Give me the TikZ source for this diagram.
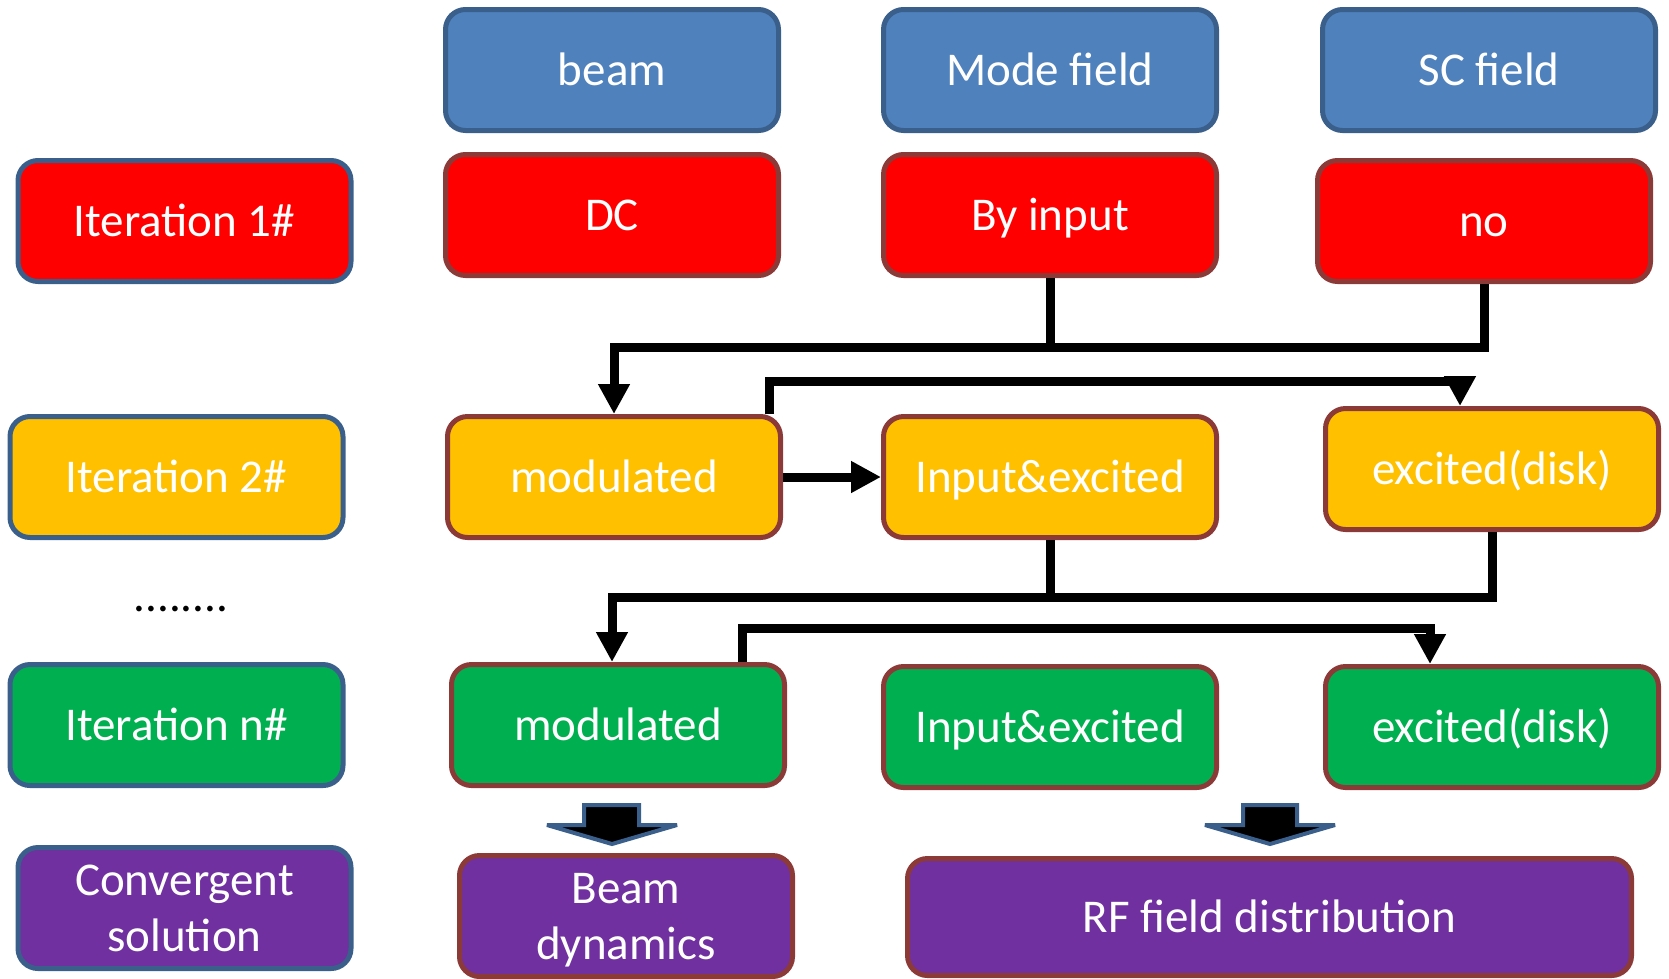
\documentclass[tikz,border=0pt]{standalone}
\usepackage{fontspec}
\setmainfont{Carlito}
\usetikzlibrary{arrows.meta,calc}
\definecolor{bfill}{HTML}{4F81BD}
\definecolor{bline}{HTML}{3A5F8B}
\definecolor{rline}{HTML}{8C3A38}
\definecolor{rfill}{HTML}{FF0000}
\definecolor{yfill}{HTML}{FFC000}
\definecolor{gfill}{HTML}{00B050}
\definecolor{pfill}{HTML}{7030A0}
\tikzset{
  box/.style={draw, line width=5pt, rounded corners=20pt, minimum width=333pt, minimum height=121pt,
    text=white, align=center, inner sep=0pt, font=\fontsize{47}{56}\selectfont},
  one/.style={text height=30pt, text depth=0pt},
  lbox/.style={box, draw=bline},
  rbox/.style={box, draw=rline},
  conn/.style={line width=9pt, draw=black},
  arr/.style={conn, -{Triangle[length=30pt,width=30pt]}},
  blockarrow/.style={fill=black, draw=bline, line width=4pt, line join=miter, miter limit=1.5},
}
\begin{document}
\begin{tikzpicture}[x=1pt,y=-1pt]
\useasboundingbox (0,0) rectangle (1669,978);
% top header row
\node[lbox, one, fill=bfill] (beam) at (612,70) {beam};
\node[lbox, one, fill=bfill] (mode) at (1050,70) {Mode field};
\node[lbox, one, fill=bfill] (sc) at (1489,70) {SC field};
% iteration 1
\node[lbox, one, fill=rfill] (it1) at (184.5,221) {Iteration 1\#};
\node[rbox, one, fill=rfill] (dc) at (612,215) {DC};
\node[rbox, one, fill=rfill] (byin) at (1050,215) {By input};
\node[rbox, one, fill=rfill] (no) at (1484,221) {no};
% iteration 2
\node[lbox, one, fill=yfill] (it2) at (176.5,477) {Iteration 2\#};
\node[rbox, one, fill=yfill] (mod2) at (614,477) {modulated};
\node[rbox, one, fill=yfill] (ie2) at (1050,477) {Input\&excited};
\node[rbox, one, fill=yfill] (ex2) at (1492,469) {excited(disk)};
% dots
\node[font=\fontsize{47}{56}\selectfont, inner sep=0pt] (dots) at (181,609) {........};
% iteration n
\node[lbox, one, fill=gfill] (itn) at (176.5,725) {Iteration n\#};
\node[rbox, one, fill=gfill] (modn) at (618,725) {modulated};
\node[rbox, one, fill=gfill] (ien) at (1050,727) {Input\&excited};
\node[rbox, one, fill=gfill] (exn) at (1492,727) {excited(disk)};
% convergent
\node[lbox, fill=pfill] (conv) at (184.5,908) {Convergent\\solution};
\node[rbox, fill=pfill, text depth=0pt] (bd) at (626,916) {Beam\\dynamics};
\node[rbox, one, fill=pfill, minimum width=724pt, minimum height=117pt] (rf) at (1269.5,917) {RF field distribution};
% connectors level 1 -> 2
\coordinate (h1) at (0,347);
\coordinate (h2) at (0,381);
\draw[conn] (byin.south) -- (byin.south |- h1);
\draw[arr] (no.south) -- (no.south |- h1) -| (mod2.north);
\coordinate (s2) at ($(mod2.north)+(155,0)$);
\coordinate (e2) at ($(ex2.north)+(-32,0)$);
\draw[arr] (s2) -- (s2 |- h2) -| (e2);
\draw[arr] (mod2.east) -- (ie2.west);
% connectors level 2 -> n
\coordinate (h3) at (0,597);
\coordinate (h4) at (0,628);
\coordinate (en) at ($(modn.north)+(-6,0)$);
\draw[conn] (ie2.south) -- (ie2.south |- h3);
\draw[arr] (ex2.south) -- (ex2.south |- h3) -| (en);
\coordinate (s4) at ($(modn.north)+(124,0)$);
\coordinate (e4) at ($(exn.north)+(-62,0)$);
\draw[arr] (s4) -- (s4 |- h4) -| (e4);
% block arrows
\draw[blockarrow] (584,805) -- (639,805) -- (639,825) -- (677,825) -- (612,844) -- (547,825) -- (584,825) -- cycle;
\draw[blockarrow] (1243,805) -- (1297,805) -- (1297,825) -- (1335,825) -- (1270,844) -- (1205,825) -- (1243,825) -- cycle;
\end{tikzpicture}
\end{document}
